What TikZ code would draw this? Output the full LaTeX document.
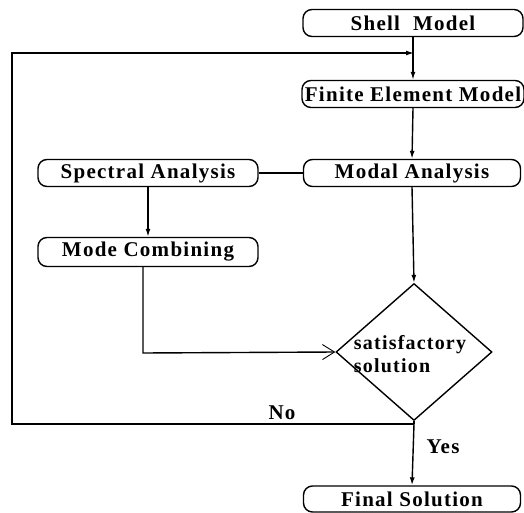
\documentclass[tikz,border=0pt]{standalone}
\usepackage{fontspec}
\setmainfont{Liberation Serif}
\newfontfamily\boxfont[LetterSpace=6]{Liberation Serif}
\usetikzlibrary{shapes.geometric,arrows.meta}
\begin{document}
\begin{tikzpicture}[x=1pt,y=-1pt,
  edge/.style={line width=1.4pt},
  stepbox/.style={draw, edge, rounded corners=9pt, minimum width=220pt, minimum height=27pt,
    inner sep=0pt, font=\boxfont\fontsize{21}{24}\selectfont\bfseries},
  flow/.style={edge, -{Latex[length=8pt,width=5pt]}},
  barb/.style={edge, -{Straight Barb[length=12pt,width=15pt,line width=0.9pt]}},
  lbl/.style={font=\boxfont\fontsize{21}{24}\selectfont\bfseries, inner sep=0pt}]
\useasboundingbox (0,0) rectangle (524,513);

% process boxes
\node[stepbox] (shell) at (413,23) {Shell\ \ Model};
\node[stepbox, minimum width=222pt] (fem) at (413,94) {Finite Element Model};
\node[stepbox, minimum width=217pt] (modal) at (412,173) {Modal Analysis};
\node[stepbox] (spec) at (148,173) {Spectral Analysis};
\node[stepbox, minimum height=29pt] (comb) at (148,252) {Mode Combining};
\node[stepbox, minimum width=217pt, minimum height=26pt] (final) at (412,499) {Final Solution};

% decision
\node[draw, edge, diamond, minimum width=156pt, minimum height=137pt, inner sep=0pt] (dec) at (414,352) {};
\node[align=left, inner sep=0pt, font=\boxfont\fontsize{20}{23}\selectfont\bfseries] (dectxt) at (410,354) {satisfactory\\solution};

% junction points of the feedback loop
\coordinate (join) at (414,53);
\coordinate (fork) at (414,424);
\coordinate (loopbot) at (12,424);
\coordinate (looptop) at (12,53);
\coordinate (combturn) at (143,353);

% connectors
\draw[flow] (shell.south) -- (fem.north);
\draw[flow] (fem.south) -- (modal.north);
\draw[edge] (spec.east) -- (modal.west);
\draw[flow] (modal.south) -- (dec.north);
\draw[flow] (spec.south) -- (comb.north);
\draw[barb] (comb.south -| combturn) -- (combturn) -- (dec.west);
\draw[edge] (dec.south) -- (fork);
\draw[flow] (fork) -- (loopbot) -- (looptop) -- (join);
\draw[flow] (fork) -- (final.north);

% branch labels
\node[lbl] (no) at (282,413) {No};
\node[lbl] (yes) at (443,447) {Yes};
\end{tikzpicture}
\end{document}
